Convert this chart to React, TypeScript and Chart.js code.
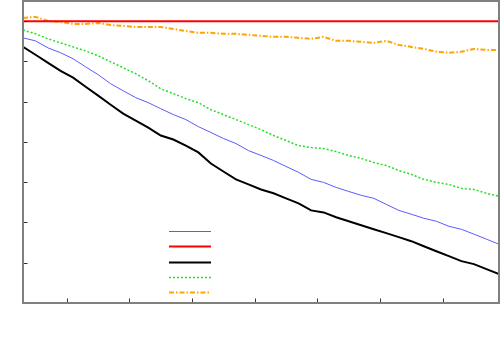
import React, { useEffect, useRef } from "react";
import { Chart, registerables } from "chart.js";

Chart.register(...registerables);

const xValues: number[] = [3, 5, 7, 9, 11, 13, 15, 17, 19, 21, 23, 25, 27, 29, 31, 33, 35, 37, 39, 41, 43, 45, 47, 49, 51, 53, 55, 57, 59, 61, 63, 65, 67, 69, 71, 73, 75, 77, 79];

const blueSeries: number[] = [1.317, 1.302, 1.267, 1.243, 1.213, 1.173, 1.134, 1.089, 1.054, 1.02, 0.995, 0.965, 0.936, 0.911, 0.876, 0.847, 0.817, 0.792, 0.757, 0.733, 0.708, 0.678, 0.649, 0.614, 0.599, 0.574, 0.554, 0.535, 0.52, 0.49, 0.46, 0.441, 0.421, 0.406, 0.381, 0.366, 0.342, 0.317, 0.292];

const redSeries: number[] = xValues.map(() => 1.4);

const blackSeries: number[] = [1.272, 1.233, 1.193, 1.153, 1.119, 1.074, 1.03, 0.985, 0.941, 0.906, 0.871, 0.832, 0.812, 0.782, 0.748, 0.693, 0.653, 0.614, 0.589, 0.564, 0.545, 0.52, 0.495, 0.46, 0.45, 0.426, 0.406, 0.386, 0.366, 0.347, 0.327, 0.307, 0.282, 0.257, 0.233, 0.208, 0.193, 0.168, 0.144];

const greenSeries: number[] = [1.356, 1.337, 1.312, 1.292, 1.272, 1.252, 1.228, 1.198, 1.168, 1.139, 1.104, 1.064, 1.04, 1.015, 0.995, 0.96, 0.936, 0.911, 0.886, 0.861, 0.832, 0.807, 0.782, 0.772, 0.767, 0.752, 0.733, 0.718, 0.698, 0.683, 0.658, 0.639, 0.614, 0.599, 0.589, 0.569, 0.564, 0.545, 0.53];

const orangeSeries: number[] = [1.416, 1.421, 1.401, 1.396, 1.386, 1.386, 1.391, 1.381, 1.376, 1.371, 1.371, 1.371, 1.361, 1.351, 1.342, 1.342, 1.337, 1.337, 1.332, 1.327, 1.322, 1.322, 1.317, 1.312, 1.322, 1.302, 1.302, 1.297, 1.292, 1.302, 1.282, 1.272, 1.262, 1.248, 1.243, 1.248, 1.262, 1.257, 1.257];

const xTicks: number[] = [10, 20, 30, 40, 50, 60, 70];
const yTicks: number[] = [0.2, 0.4, 0.6, 0.8, 1.0, 1.2, 1.4];

const toPoints = (ys: number[]) => ys.map((y, i) => ({ x: xValues[i], y }));

const framePlugin = {
  id: "frameAndLegend",
  afterDatasetsDraw(chart: any) {
    const { ctx, chartArea } = chart;
    const xs = chart.scales.x;
    const ys = chart.scales.y;
    ctx.save();
    // inward ticks
    ctx.strokeStyle = "#333333";
    ctx.lineWidth = 1;
    ctx.setLineDash([]);
    ctx.beginPath();
    for (const v of yTicks) {
      const py = Math.round(ys.getPixelForValue(v)) + 0.5;
      ctx.moveTo(chartArea.left, py);
      ctx.lineTo(chartArea.left + 4.5, py);
    }
    for (const v of xTicks) {
      const px = Math.round(xs.getPixelForValue(v)) + 0.5;
      ctx.moveTo(px, chartArea.bottom);
      ctx.lineTo(px, chartArea.bottom - 4.5);
    }
    ctx.stroke();
    // frame
    ctx.strokeStyle = "#808080";
    ctx.lineWidth = 2;
    ctx.strokeRect(chartArea.left, chartArea.top, chartArea.right - chartArea.left, chartArea.bottom - chartArea.top);
    // legend samples (no text)
    const n = chart.data.datasets.length;
    chart.data.datasets.forEach((ds: any, i: number) => {
      const y = Math.round(chartArea.bottom - 11 - (n - 1 - i) * 15.25) + 0.5;
      ctx.beginPath();
      ctx.strokeStyle = ds.borderColor;
      ctx.lineWidth = ds.borderWidth;
      ctx.setLineDash(ds.borderDash || []);
      ctx.moveTo(chartArea.left + 146, y);
      ctx.lineTo(chartArea.left + 188, y);
      ctx.stroke();
    });
    ctx.restore();
  },
};

export default function App() {
  const canvasRef = useRef<HTMLCanvasElement | null>(null);

  useEffect(() => {
    document.body.style.margin = "0";
    const canvas = canvasRef.current;
    if (!canvas) return;
    const chart = new Chart(canvas, {
      type: "line",
      data: {
        datasets: [
          { label: "blue", data: toPoints(blueSeries), borderColor: "#5a5aff", borderWidth: 1, pointRadius: 0, fill: false, tension: 0 },
          { label: "red", data: toPoints(redSeries), borderColor: "#ff0000", borderWidth: 2, pointRadius: 0, fill: false, tension: 0 },
          { label: "black", data: toPoints(blackSeries), borderColor: "#000000", borderWidth: 2, pointRadius: 0, fill: false, tension: 0 },
          { label: "green", data: toPoints(greenSeries), borderColor: "#22e022", borderWidth: 1.5, borderDash: [2, 2], pointRadius: 0, fill: false, tension: 0 },
          { label: "orange", data: toPoints(orangeSeries), borderColor: "#ffa500", borderWidth: 2, borderDash: [5, 2, 1.5, 2], pointRadius: 0, fill: false, tension: 0 },
        ],
      },
      options: {
        responsive: false,
        animation: false,
        events: [],
        layout: { padding: { left: 23, top: 1, right: 1, bottom: 47 } },
        plugins: { legend: { display: false }, tooltip: { enabled: false }, title: { display: false } },
        scales: {
          x: { type: "linear", min: 3, max: 79, display: false },
          y: { type: "linear", min: 0, max: 1.5, display: false },
        },
      },
      plugins: [framePlugin],
    });
    return () => chart.destroy();
  }, []);

  return (
    <div style={{ position: "fixed", left: 0, top: 0, width: 500, height: 350, background: "#ffffff" }}>
      <canvas ref={canvasRef} width={500} height={350} style={{ display: "block" }} />
    </div>
  );
}
